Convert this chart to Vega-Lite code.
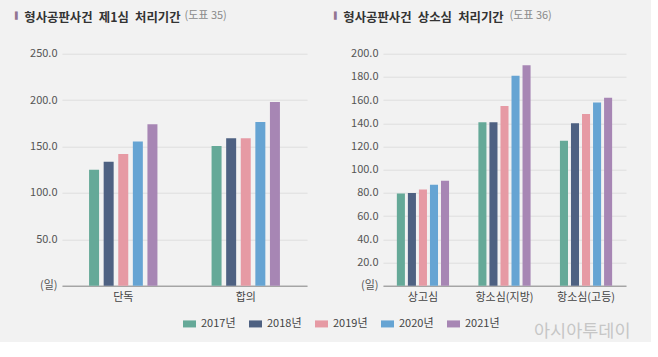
{
  "$schema": "https://vega.github.io/schema/vega-lite/v6.json",
  "background": "#f2f2f2",
  "padding": {"left": 15, "top": 8.7, "right": 20, "bottom": 0},
  "bounds": "flush",
  "spacing": 76,
  "resolve": {"scale": {"xOffset": "independent", "x": "independent", "y": "independent"}},
  "config": {
    "font": "Noto Sans CJK KR",
    "view": {"stroke": null},
    "axis": {"labelFont": "Noto Sans CJK KR", "titleFont": "Noto Sans CJK KR"},
    "axisY": {"domain": false, "ticks": false, "gridColor": "#dedede", "gridWidth": 1, "labelFontSize": 11, "labelColor": "#555555", "labelPadding": 5, "title": null},
    "axisX": {"domainColor": "#888888", "domainWidth": 1, "ticks": false, "labelFontSize": 11, "labelColor": "#444444", "labelPadding": 6, "labelAngle": 0, "grid": false},
    "title": {"font": "Noto Sans CJK KR", "fontSize": 12.4, "fontWeight": "bold", "color": "#333333", "anchor": "start", "frame": "group", "baseline": "alphabetic", "subtitleFont": "DejaVu Sans", "subtitleFontSize": 7, "subtitleColor": "#937592", "subtitlePadding": -13}
  },
  "datasets": {
    "first": [
      {"type": "단독", "year": "2017년", "days": 125},
      {"type": "단독", "year": "2018년", "days": 133.5},
      {"type": "단독", "year": "2019년", "days": 142},
      {"type": "단독", "year": "2020년", "days": 155.5},
      {"type": "단독", "year": "2021년", "days": 174},
      {"type": "합의", "year": "2017년", "days": 150.5},
      {"type": "합의", "year": "2018년", "days": 159},
      {"type": "합의", "year": "2019년", "days": 159},
      {"type": "합의", "year": "2020년", "days": 176.5},
      {"type": "합의", "year": "2021년", "days": 198}
    ],
    "appeal": [
      {"type": "상고심", "year": "2017년", "days": 79.5},
      {"type": "상고심", "year": "2018년", "days": 80},
      {"type": "상고심", "year": "2019년", "days": 83},
      {"type": "상고심", "year": "2020년", "days": 87},
      {"type": "상고심", "year": "2021년", "days": 90.5},
      {"type": "항소심(지방)", "year": "2017년", "days": 141},
      {"type": "항소심(지방)", "year": "2018년", "days": 141},
      {"type": "항소심(지방)", "year": "2019년", "days": 155},
      {"type": "항소심(지방)", "year": "2020년", "days": 181},
      {"type": "항소심(지방)", "year": "2021년", "days": 190},
      {"type": "항소심(고등)", "year": "2017년", "days": 125},
      {"type": "항소심(고등)", "year": "2018년", "days": 140},
      {"type": "항소심(고등)", "year": "2019년", "days": 148},
      {"type": "항소심(고등)", "year": "2020년", "days": 158},
      {"type": "항소심(고등)", "year": "2021년", "days": 162}
    ]
  },
  "hconcat": [
    {
      "width": 245,
      "height": 232,
      "data": {"name": "first"},
      "title": {"text": "\u200b\u2002\u2005형사공판사건\u2002제1심\u2002처리기간", "subtitle": "▌", "dx": -47, "offset": -16},
      "mark": {"type": "bar"},
      "encoding": {
        "x": {
          "field": "type", "type": "nominal", "sort": ["단독", "합의"],
          "scale": {"paddingInner": 0.43, "paddingOuter": 0.215},
          "axis": {"title": "(도표 35)", "titleColor": "#8a8a8a", "titleFontSize": 11, "titleFontWeight": "normal", "titleAngle": 0, "titleAlign": "left", "titleBaseline": "alphabetic", "titleX": 122, "titleY": -267.5}
        },
        "xOffset": {"field": "year", "type": "nominal", "scale": {"paddingInner": 0.315, "paddingOuter": 0.05}},
        "y": {
          "field": "days", "type": "quantitative",
          "scale": {"domain": [0, 250], "nice": false},
          "axis": {"values": [0, 50, 100, 150, 200, 250], "labelExpr": "datum.value == 0 ? '(일)' : format(datum.value, '.1f')"}
        },
        "color": {
          "field": "year", "type": "nominal",
          "scale": {"domain": ["2017년", "2018년", "2019년", "2020년", "2021년"], "range": ["#65a998", "#4e6182", "#e69aa4", "#66a4d3", "#a786b4"]},
          "legend": {
            "orient": "none", "legendX": 121, "legendY": 263.5, "direction": "horizontal",
            "title": "아시아투데이", "titleOrient": "right", "titlePadding": 34, "titleFontSize": 17.5, "titleFontWeight": "normal", "titleColor": "#c6c6c6", "titleBaseline": "top",
            "symbolType": "M-1,-0.54H1V0.54H-1Z", "symbolSize": 169, "symbolStrokeWidth": 0, "symbolOpacity": 1,
            "labelFontSize": 11, "labelColor": "#444444", "labelOffset": 5, "columnPadding": 13
          }
        }
      }
    },
    {
      "width": 243,
      "height": 232,
      "data": {"name": "appeal"},
      "title": {"text": "\u200b\u2002\u2005형사공판사건\u2002상소심\u2002처리기간", "subtitle": "▌", "dx": -49, "offset": -16},
      "mark": {"type": "bar"},
      "encoding": {
        "x": {
          "field": "type", "type": "nominal", "sort": ["상고심", "항소심(지방)", "항소심(고등)"],
          "scale": {"paddingInner": 0.36, "paddingOuter": 0.17},
          "axis": {"title": "(도표 36)", "titleColor": "#8a8a8a", "titleFontSize": 11, "titleFontWeight": "normal", "titleAngle": 0, "titleAlign": "left", "titleBaseline": "alphabetic", "titleX": 126, "titleY": -267.5}
        },
        "xOffset": {"field": "year", "type": "nominal", "scale": {"paddingInner": 0.27, "paddingOuter": 0}},
        "y": {
          "field": "days", "type": "quantitative",
          "scale": {"domain": [0, 200], "nice": false},
          "axis": {"values": [0, 20, 40, 60, 80, 100, 120, 140, 160, 180, 200], "labelExpr": "datum.value == 0 ? '(일)' : format(datum.value, '.1f')"}
        },
        "color": {
          "field": "year", "type": "nominal",
          "scale": {"domain": ["2017년", "2018년", "2019년", "2020년", "2021년"], "range": ["#65a998", "#4e6182", "#e69aa4", "#66a4d3", "#a786b4"]}
        }
      }
    }
  ]
}
